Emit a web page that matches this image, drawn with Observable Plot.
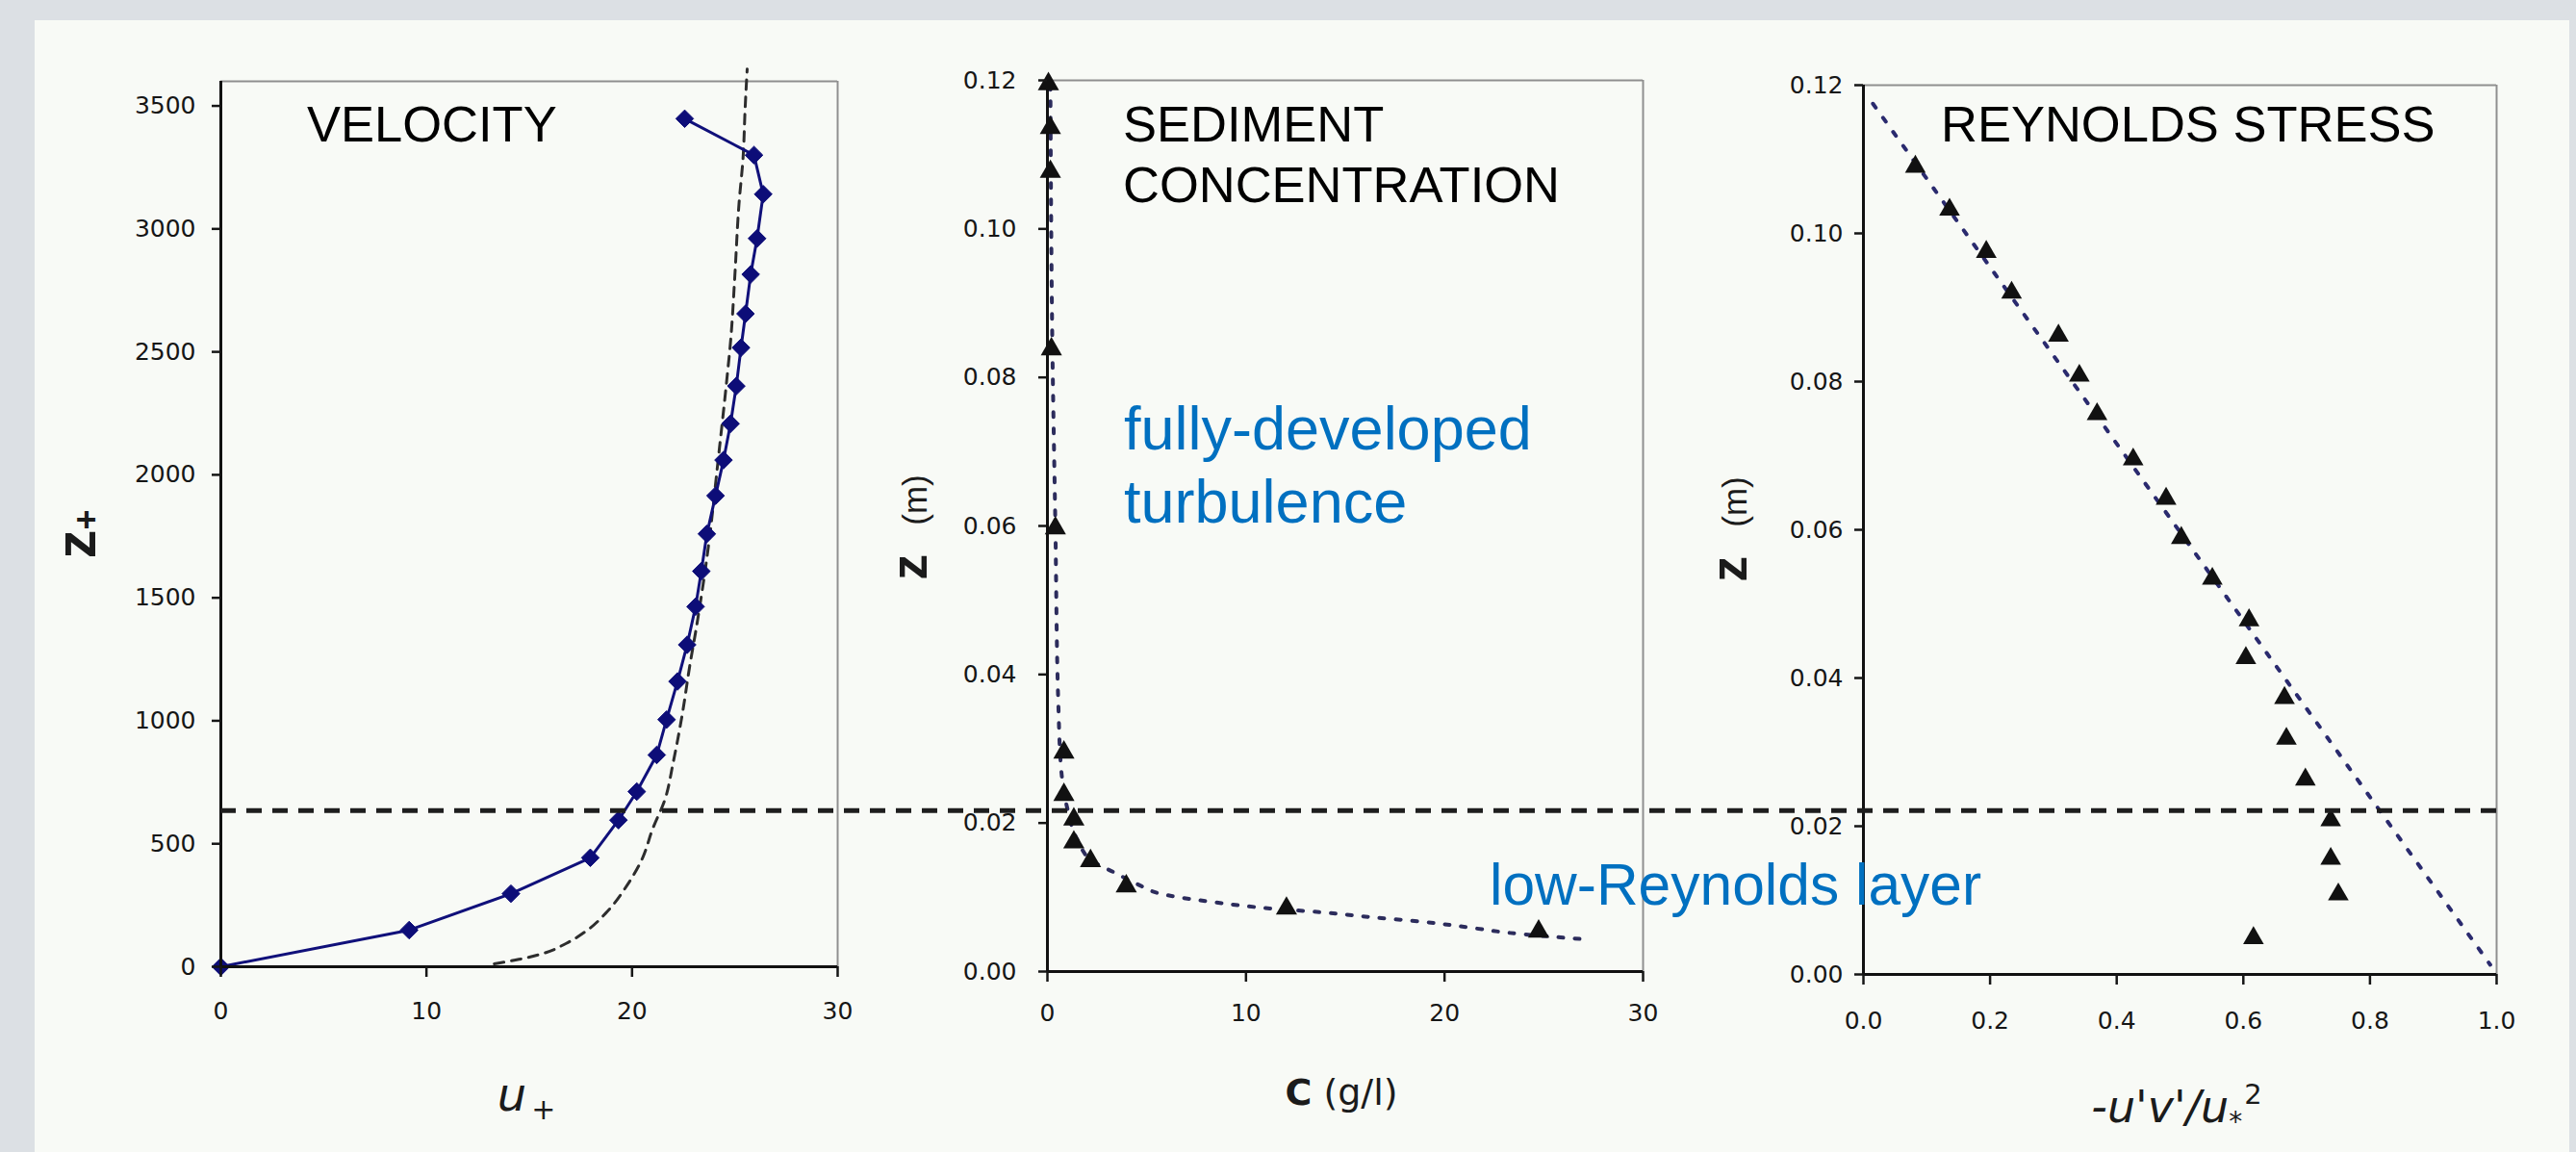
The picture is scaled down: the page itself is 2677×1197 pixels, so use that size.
<!DOCTYPE html>
<html>
<head>
<meta charset="utf-8">
<script src="https://cdn.jsdelivr.net/npm/d3@7"></script>
<script src="https://cdn.jsdelivr.net/npm/@observablehq/plot@0.6"></script>
<style>
  html, body { margin: 0; padding: 0; }
  body { width: 2677px; height: 1197px; background: #dce0e4; position: relative; overflow: hidden;
         font-family: "Liberation Sans", Arial, sans-serif; }
  #panel { position: absolute; left: 36px; top: 21px; width: 2634px; height: 1176px; background: #f8faf6; }
  .layer { position: absolute; top: 0; height: 1197px; }
  .layer svg { overflow: visible; max-width: none; }
  .ann { position: absolute; white-space: nowrap; line-height: 1; color: #000; }
  .axt { position: absolute; white-space: nowrap; line-height: 1; color: #1b1b1b; font-family: "DejaVu Sans", sans-serif; }
  .ayt { position: absolute; white-space: nowrap; line-height: 1; color: #1b1b1b; font-family: "Liberation Sans", Arial, sans-serif; }
</style>
</head>
<body>
<div id="panel"></div>
<div id="p1" class="layer"></div>
<div id="p2" class="layer"></div>
<div id="p3" class="layer"></div>
<div id="ov" class="layer" style="pointer-events:none"></div>
<script>
// ---------------- DATA ----------------
// Velocity profile (measured): z+ and u+
const velZ = [0, 149, 297, 443, 596, 712, 861, 1005, 1160, 1309, 1464, 1608, 1760, 1915, 2060, 2208, 2361, 2517, 2655, 2815, 2961, 3141, 3300, 3448];
const velU = [0, 9.16, 14.11, 17.97, 19.34, 20.23, 21.20, 21.68, 22.21, 22.68, 23.09, 23.37, 23.64, 24.06, 24.45, 24.79, 25.07, 25.30, 25.52, 25.77, 26.08, 26.38, 25.93, 22.56];
// Log-law reference curve (dashed)
const logLawZ = [12, 30, 52, 95, 147, 225, 330, 440, 560, 680, 830, 1030, 1220, 1390, 1700, 2070, 2380, 2550, 2810, 3100, 3290, 3490, 3650];
const logLawU = [13.3, 14.5, 15.6, 16.8, 17.8, 18.8, 19.75, 20.5, 21.0, 21.6, 22.0, 22.45, 22.8, 23.15, 23.7, 24.2, 24.6, 24.8, 25.0, 25.2, 25.4, 25.5, 25.6];

// Sediment concentration (measured): z (m) and C (g/l)
const sedZ = [0.0054, 0.0085, 0.0115, 0.0149, 0.0174, 0.0205, 0.0238, 0.0295, 0.0597, 0.0838, 0.1077, 0.1136, 0.1195];
const sedC = [24.74, 12.04, 3.97, 2.17, 1.33, 1.33, 0.83, 0.83, 0.40, 0.20, 0.15, 0.15, 0.05];
// Sediment fitted profile (dotted)
const sedFitZ = [0.0044, 0.0052, 0.0058, 0.0067, 0.0073, 0.0080, 0.0085, 0.0093, 0.0103, 0.0118, 0.0133, 0.0148, 0.0178, 0.022, 0.027, 0.036, 0.060, 0.084, 0.119];
const sedFitC = [26.8, 23.3, 21.6, 18.9, 16.4, 13.7, 11.2, 8.5, 6.0, 4.5, 3.4, 2.3, 1.5, 1.0, 0.7, 0.55, 0.4, 0.25, 0.15];

// Reynolds stress (measured): z (m) and -u'v'/u*^2
const rsZ = [0.1090, 0.1032, 0.0975, 0.0920, 0.0862, 0.0808, 0.0756, 0.0695, 0.0642, 0.0589, 0.0534, 0.0478, 0.0427, 0.0373, 0.0318, 0.0263, 0.0208, 0.0156, 0.0108, 0.0049];
const rsX = [0.082, 0.136, 0.194, 0.234, 0.308, 0.341, 0.369, 0.426, 0.478, 0.502, 0.551, 0.609, 0.604, 0.665, 0.668, 0.698, 0.738, 0.738, 0.750, 0.616];
// Linear total-stress line (dotted)
const rsFitZ = [0.1175, 0.0013];
const rsFitX = [0.015, 0.99];

// Boundary of the low-Reynolds layer, in z+
const lowReBoundary = [635];

// Axes
const zPlusDomain = [0, 3600];
const zPlusTicks = [0, 500, 1000, 1500, 2000, 2500, 3000, 3500];
const uDomain = [0, 30];
const uTicks = [0, 10, 20, 30];
const zDomain = [0, 0.12];
const zTicks = [0, 0.02, 0.04, 0.06, 0.08, 0.10, 0.12];
const cDomain = [0, 30];
const cTicks = [0, 10, 20, 30];
const rsDomain = [0, 1];
const rsTicks = [0, 0.2, 0.4, 0.6, 0.8, 1.0];

// ---------------- TABLES ----------------
const velocity = velZ.map((z, i) => ({z, u: velU[i]}));
const logLaw = logLawZ.map((z, i) => ({z, u: logLawU[i]}));
const sediment = sedZ.map((z, i) => ({z, c: sedC[i]}));
const sedFit = sedFitZ.map((z, i) => ({z, c: sedFitC[i]}));
const stress = rsZ.map((z, i) => ({z, r: rsX[i]}));
const stressFit = rsFitZ.map((z, i) => ({z, r: rsFitX[i]}));

// ---------------- STYLE ----------------
const baseStyle = {fontFamily: "'DejaVu Sans', sans-serif", fontSize: "25px", color: "#161616",
                   background: "transparent", overflow: "visible", maxWidth: "none"};
const AXIS = "#111";
const FRAME = "#8f8f8f";
const fmtInt = d3.format("d");
const fmt2 = d3.format(".2f");
const fmt1 = d3.format(".1f");

function mount(id, left, width, chart) {
  const host = document.getElementById(id);
  host.style.left = left + "px";
  host.style.width = width + "px";
  host.appendChild(chart);
}

// ---------------- PANEL 1: VELOCITY ----------------
mount("p1", 0, 900, Plot.plot({
  width: 900, height: 1197,
  marginLeft: 229, marginRight: 30, marginTop: 84, marginBottom: 193,
  style: baseStyle,
  x: {domain: uDomain},
  y: {domain: zPlusDomain},
  marks: [
    Plot.ruleY([zPlusDomain[1]], {stroke: FRAME, strokeWidth: 2}),
    Plot.ruleX([uDomain[1]], {stroke: FRAME, strokeWidth: 2}),
    Plot.line(logLaw, {x: "u", y: "z", curve: "monotone-y", stroke: "#2d2d2d", strokeWidth: 3, strokeDasharray: "10,8"}),
    Plot.line(velocity, {x: "u", y: "z", stroke: "#10107a", strokeWidth: 3}),
    Plot.dot(velocity, {x: "u", y: "z", symbol: "diamond2", r: 8.3, fill: "#0d0d78", stroke: "#0d0d78", strokeWidth: 1}),
    Plot.ruleX([uDomain[0]], {stroke: AXIS, strokeWidth: 3}),
    Plot.ruleY([zPlusDomain[0]], {stroke: AXIS, strokeWidth: 3}),
    Plot.axisY({ticks: zPlusTicks, tickSize: 9, tickPadding: 17, tickFormat: fmtInt, strokeWidth: 2.5, label: null}),
    Plot.axisX({ticks: uTicks, tickSize: 11, tickPadding: 26, tickFormat: fmtInt, strokeWidth: 2.5, label: null})
  ]
}));

// ---------------- PANEL 2: SEDIMENT CONCENTRATION ----------------
mount("p2", 900, 880, Plot.plot({
  width: 880, height: 1197,
  marginLeft: 188, marginRight: 73, marginTop: 83, marginBottom: 188,
  style: baseStyle,
  x: {domain: cDomain},
  y: {domain: zDomain},
  marks: [
    Plot.ruleY([zDomain[1]], {stroke: FRAME, strokeWidth: 2}),
    Plot.ruleX([cDomain[1]], {stroke: FRAME, strokeWidth: 2}),
    Plot.line(sedFit, {x: "c", y: "z", curve: "monotone-y", stroke: "#2c2c5c", strokeWidth: 4, strokeDasharray: "5,12"}),
    Plot.ruleX([cDomain[0]], {stroke: AXIS, strokeWidth: 3}),
    Plot.ruleY([zDomain[0]], {stroke: AXIS, strokeWidth: 3}),
    Plot.dot(sediment, {x: "c", y: "z", symbol: "triangle", r: 8.2, fill: "#111", stroke: "none"}),
    Plot.axisY({ticks: zTicks, tickSize: 9, tickPadding: 23, tickFormat: fmt2, strokeWidth: 2.5, label: null}),
    Plot.axisX({ticks: cTicks, tickSize: 11, tickPadding: 23, tickFormat: fmtInt, strokeWidth: 2.5, label: null})
  ]
}));

// ---------------- PANEL 3: REYNOLDS STRESS ----------------
mount("p3", 1780, 897, Plot.plot({
  width: 897, height: 1197,
  marginLeft: 156, marginRight: 83, marginTop: 88, marginBottom: 185,
  style: baseStyle,
  x: {domain: rsDomain},
  y: {domain: zDomain},
  marks: [
    Plot.ruleY([zDomain[1]], {stroke: FRAME, strokeWidth: 2}),
    Plot.ruleX([rsDomain[1]], {stroke: FRAME, strokeWidth: 2}),
    Plot.line(stressFit, {x: "r", y: "z", stroke: "#2a2a6e", strokeWidth: 4, strokeDasharray: "5,13"}),
    Plot.ruleX([rsDomain[0]], {stroke: AXIS, strokeWidth: 3}),
    Plot.ruleY([zDomain[0]], {stroke: AXIS, strokeWidth: 3}),
    Plot.dot(stress, {x: "r", y: "z", symbol: "triangle", r: 8, fill: "#111", stroke: "none"}),
    Plot.axisY({ticks: zTicks, tickSize: 9, tickPadding: 12, tickFormat: fmt2, strokeWidth: 2.5, label: null}),
    Plot.axisX({ticks: rsTicks, tickSize: 11, tickPadding: 28, tickFormat: fmt1, strokeWidth: 2.5, label: null})
  ]
}));

// ---------------- OVERLAY: low-Reynolds layer boundary ----------------
mount("ov", 0, 2677, Plot.plot({
  width: 2677, height: 1197,
  marginLeft: 229, marginRight: 79, marginTop: 84, marginBottom: 193,
  style: {...baseStyle},
  y: {domain: zPlusDomain, axis: null},
  marks: [
    Plot.ruleY(lowReBoundary, {stroke: "#1e1e1e", strokeWidth: 5, strokeDasharray: "16,11"})
  ]
}));

// ---------------- TEXT ----------------
function addText(cls, html, css) {
  const el = document.createElement("div");
  el.className = cls;
  el.innerHTML = html;
  Object.assign(el.style, css);
  document.body.appendChild(el);
  return el;
}
// panel titles
addText("ann", "VELOCITY", {left: "319px", top: "102.6px", fontSize: "52.5px"});
addText("ann", "SEDIMENT<br>CONCENTRATION", {left: "1167px", top: "97.3px", fontSize: "52.5px", lineHeight: "63px"});
addText("ann", "REYNOLDS STRESS", {left: "2017px", top: "102.6px", fontSize: "52.5px"});
// region annotations
addText("ann", "fully-developed<br>turbulence", {left: "1168px", top: "407px", fontSize: "63px", lineHeight: "76px", color: "#0070c0"});
addText("ann", "low-Reynolds layer", {left: "1548px", top: "888.8px", fontSize: "60.5px", color: "#0070c0"});
// x-axis titles
addText("axt", '<i>u</i><span style="font-size:30px;position:relative;top:9px;margin-left:5px">+</span>',
  {left: "547px", top: "1113.4px", fontSize: "48px", transform: "translateX(-50%)"});
addText("axt", '<b>C</b> (g/l)',
  {left: "1394px", top: "1115.9px", fontSize: "38px", transform: "translateX(-50%)"});
addText("axt", '<i>-u\'v\'/u</i><span style="font-size:28px;position:relative;top:9px">*</span><span style="font-size:29px;position:relative;top:-19px;margin-left:2px">2</span>',
  {left: "2262px", top: "1127px", fontSize: "46px", transform: "translateX(-50%)"});
// y-axis titles (rotated)
addText("ayt", '<b>z</b><span style="font-size:36px;font-weight:bold;position:relative;top:3px">+</span>',
  {left: "79px", top: "555px", fontSize: "60px", transform: "translate(-50%,-50%) rotate(-90deg)"});
addText("ayt", '<b>z</b><span style="font-size:35px;margin-left:30px">(m)</span>',
  {left: "944px", top: "548px", fontSize: "54px", transform: "translate(-50%,-50%) rotate(-90deg)"});
addText("ayt", '<b>z</b><span style="font-size:35px;margin-left:30px">(m)</span>',
  {left: "1796px", top: "550px", fontSize: "54px", transform: "translate(-50%,-50%) rotate(-90deg)"});
</script>
</body>
</html>
